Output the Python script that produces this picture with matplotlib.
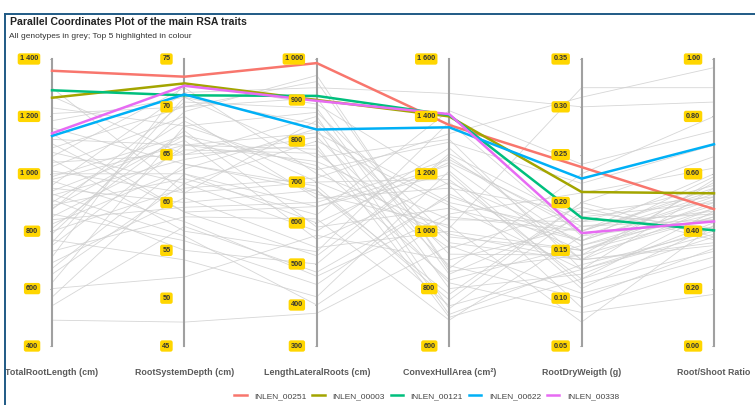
import numpy as np
import matplotlib
matplotlib.use('Agg')
import matplotlib.pyplot as plt
from matplotlib.lines import Line2D

plt.rcParams['font.family'] = ['Liberation Sans', 'DejaVu Sans']

traits = ['TotalRootLength (cm)', 'RootSystemDepth (cm)', 'LengthLateralRoots (cm)',
          'ConvexHullArea (cm²)', 'RootDryWeigth (g)', 'Root/Shoot Ratio']
lims = [(400, 1400), (45, 75), (300, 1000), (600, 1600), (0.05, 0.35), (0.0, 1.0)]
ticks = [[400, 600, 800, 1000, 1200, 1400],
         [45, 50, 55, 60, 65, 70, 75],
         [300, 400, 500, 600, 700, 800, 900, 1000],
         [600, 800, 1000, 1200, 1400, 1600],
         [0.05, 0.10, 0.15, 0.20, 0.25, 0.30, 0.35],
         [0.0, 0.2, 0.4, 0.6, 0.8, 1.0]]
tick_fmt = ['{:,.0f}', '{:.0f}', '{:,.0f}', '{:,.0f}', '{:.2f}', '{:.2f}']

# all genotypes (grey)
trl = [1230, 1185, 1160, 1120, 1105, 1090, 1075, 1060, 1050, 1040, 1025, 1010, 1000, 990, 975,
       960, 950, 940, 925, 910, 900, 890, 875, 860, 850, 840, 825, 810, 800, 790, 770, 750, 730,
       710, 690, 670, 650, 620, 600, 570, 540, 490, 1270, 1300, 1210, 1140, 980, 930, 880, 760]
rsd = [68, 71, 64, 66, 59, 70, 62, 72, 57, 65, 69, 61, 63, 67, 58, 71.5, 60, 66.5, 64.5, 55,
       68.5, 62.5, 70.5, 56, 65.5, 59.5, 63.5, 67.5, 61.5, 69.5, 54, 66, 58.5, 72.5, 60.5, 64, 62,
       68, 52.2, 63, 57.5, 47.5, 65, 61, 70, 59, 66, 56.5, 67, 71]
llr = [870, 760, 690, 820, 640, 905, 580, 720, 530, 790, 660, 850, 600, 740, 470, 930, 680, 560,
       810, 500, 700, 620, 880, 450, 770, 650, 830, 590, 710, 960, 420, 750, 610, 890, 540, 680,
       800, 730, 570, 640, 480, 380, 860, 700, 945, 520, 780, 400, 670, 840]
cha = [980, 1320, 760, 1100, 1200, 850, 1290, 1010, 1380, 700, 1150, 920, 1240, 830, 1060, 1480,
       740, 1170, 880, 1270, 990, 1420, 800, 1130, 940, 1250, 710, 1080, 1340, 860, 1210, 1040,
       690, 1160, 1000, 780, 1090, 1310, 900, 1230, 1120, 950, 730, 1180, 870, 1260, 820, 1050,
       1020, 960]
rdw = [0.15, 0.13, 0.2, 0.17, 0.11, 0.185, 0.14, 0.32, 0.165, 0.12, 0.19, 0.145, 0.175, 0.155,
       0.21, 0.3, 0.13, 0.16, 0.1, 0.18, 0.14, 0.24, 0.125, 0.15, 0.195, 0.17, 0.135, 0.16, 0.31,
       0.145, 0.115, 0.18, 0.165, 0.09, 0.15, 0.2, 0.13, 0.22, 0.175, 0.14, 0.16, 0.105, 0.19,
       0.12, 0.23, 0.155, 0.085, 0.17, 0.075, 0.14]
rsr = [0.45, 0.55, 0.38, 0.6, 0.42, 0.5, 0.36, 0.9, 0.53, 0.47, 0.41, 0.57, 0.44, 0.49, 0.62,
       0.85, 0.39, 0.52, 0.34, 0.46, 0.58, 0.75, 0.43, 0.48, 0.37, 0.54, 0.4, 0.51, 0.97, 0.45,
       0.33, 0.56, 0.44, 0.28, 0.5, 0.66, 0.41, 0.7, 0.47, 0.35, 0.59, 0.31, 0.52, 0.38, 0.8, 0.46,
       0.18, 0.55, 0.42, 0.48]

# top 5
top_names = ['INLEN_00251', 'INLEN_00003', 'INLEN_00121', 'INLEN_00622', 'INLEN_00338']
top_colors = ['#F8766D', '#A3A500', '#00BF7D', '#00B0F6', '#E76BF3']
top_trl = [1359, 1265, 1291, 1132, 1141]
top_rsd = [73.15, 72.45, 71.2, 71.3, 72.2]
top_llr = [990, 900, 910, 828, 898]
top_cha = [1370, 1400, 1405, 1362, 1408]
top_rdw = [0.237, 0.211, 0.184, 0.225, 0.168]
top_rsr = [0.477, 0.532, 0.403, 0.703, 0.434]


def norm(vals):
    return [(v - lo) / (hi - lo) for v, (lo, hi) in zip(vals, lims)]


fig = plt.figure(figsize=(7.55, 4.05), dpi=100)
ax = fig.add_axes((52 / 755, 1 - 346 / 405, 662 / 755, 287 / 405))
ax.set_xlim(0, 5)
ax.set_ylim(0, 1)
ax.axis('off')

xs = np.arange(6)
for row in zip(trl, rsd, llr, cha, rdw, rsr):
    ax.plot(xs, norm(row), color='#cfcfcf', lw=0.6, alpha=0.85, zorder=1, clip_on=False)

for i, name in enumerate(top_names):
    row = [top_trl[i], top_rsd[i], top_llr[i], top_cha[i], top_rdw[i], top_rsr[i]]
    ax.plot(xs, norm(row), color=top_colors[i], lw=1.8, zorder=3, label=name, clip_on=False)

# vertical axes with yellow tick labels
for j in range(6):
    ax.plot([j, j], [0, 1], color='#a0a0a0', lw=1.5, zorder=2, clip_on=False)
    lo, hi = lims[j]
    for t in ticks[j]:
        yy = (t - lo) / (hi - lo)
        ax.plot([j - 0.012, j], [yy, yy], color='#a0a0a0', lw=0.5, zorder=2, clip_on=False)
        lab = tick_fmt[j].format(t).replace(',', ' ')
        ax.annotate(lab, (j, yy), xytext=(-10, 0), textcoords='offset points',
                    ha='right', va='center', fontsize=5.2, fontweight='bold', color='#333333',
                    bbox=dict(boxstyle='round,pad=0.3', fc='#FFD600', ec='none'), zorder=5)
    ax.annotate(traits[j], (j, 0), xytext=(0, -19), textcoords='offset points',
                ha='center', va='center', fontsize=6.4, fontweight='bold', color='#5a5a5a')

fig.text(10 / 755, 1 - 22 / 405, 'Parallel Coordinates Plot of the main RSA traits',
         fontsize=7.6, fontweight='bold', color='#222222', va='center')
fig.text(9 / 755, 1 - 36 / 405, 'All genotypes in grey; Top 5 highlighted in colour',
         fontsize=6, color='#333333', va='center')

fig.legend(loc='center', bbox_to_anchor=(0.565, 1 - 396 / 405), ncol=5, frameon=False,
           fontsize=6, handlelength=1.5, columnspacing=0.7, handletextpad=0.9,
           labelcolor='#444444')

# outer frame (left and top edges)
fr = '#1f5a85'
fig.add_artist(Line2D([4.5 / 755, 4.5 / 755], [0, 1 - 14 / 405], color=fr, lw=1.4))
fig.add_artist(Line2D([4.5 / 755, 1], [1 - 14 / 405, 1 - 14 / 405], color=fr, lw=1.4))

fig.savefig('out.png', dpi=100)
